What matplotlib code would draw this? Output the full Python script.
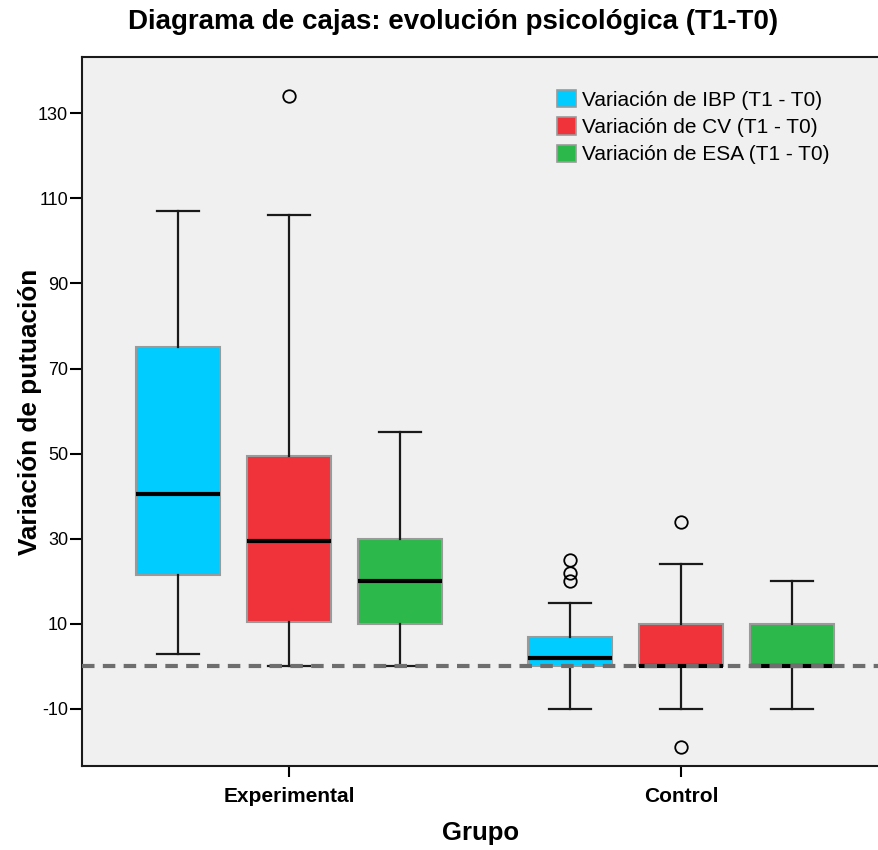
import matplotlib
matplotlib.use("Agg")
import matplotlib.pyplot as plt
from matplotlib.patches import Patch
from matplotlib.ticker import FuncFormatter

# Box-plot summary statistics (score change T1 - T0)
groups = ["Experimental", "Control"]
series = ["Variación de IBP (T1 - T0)", "Variación de CV (T1 - T0)", "Variación de ESA (T1 - T0)"]
colors = ["#00CCFF", "#F0323A", "#2DB84B"]

# per series: [Experimental, Control]
whislo = [[3, -10], [0, -10], [0, -10]]
q1 = [[21.5, 0], [10.5, 0], [10, 0]]
med = [[40.5, 2], [29.5, 0], [20, 0]]
q3 = [[75, 7], [49.5, 10], [30, 10]]
whishi = [[107, 15], [106, 24], [55, 20]]
fliers = [[[], [25, 22, 20]], [[134], [34, -19]], [[], []]]

plt.rcParams["font.family"] = ["Liberation Sans", "DejaVu Sans"]

fig = plt.figure(figsize=(8.79, 8.5), dpi=100)
ax = fig.add_axes([82 / 879, 84 / 850, 1 - 82 / 879, (766 - 57) / 850])
ax.set_facecolor("#F0F0F0")

offset = 0.283
width = 0.214
for s in range(3):
    stats = []
    positions = []
    for g in range(2):
        stats.append(dict(med=med[s][g], q1=q1[s][g], q3=q3[s][g],
                          whislo=whislo[s][g], whishi=whishi[s][g],
                          fliers=fliers[s][g]))
        positions.append(g + (s - 1) * offset)
    ax.bxp(stats, positions=positions, widths=width, patch_artist=True,
           showfliers=True,
           boxprops=dict(facecolor=colors[s], edgecolor="#9A9A9A", linewidth=1.5),
           medianprops=dict(color="black", linewidth=3),
           whiskerprops=dict(color="#1a1a1a", linewidth=1.6),
           capprops=dict(color="#1a1a1a", linewidth=1.6),
           capwidths=width * 0.5,
           flierprops=dict(marker="o", markerfacecolor="none", markeredgecolor="black",
                           markersize=9, markeredgewidth=1.3))

ax.axhline(0, color="#6E6E6E", linestyle=(0, (3, 2)), linewidth=3, zorder=5)

ax.set_xlim(-0.528, 1.505)
ax.set_ylim(-23.4, 143.2)
ax.set_yticks([-10, 10, 30, 50, 70, 90, 110, 130])
ax.yaxis.set_major_formatter(FuncFormatter(lambda v, p: f"{v:.0f}"))
ax.set_xticks([0, 1])
ax.set_xticklabels(groups, fontsize=15, fontweight="bold")
ax.tick_params(axis="y", labelsize=13, length=9, width=1.5, direction="out", pad=1)
ax.tick_params(axis="x", length=8, width=1.5, direction="out", pad=7)
for side in ["left", "bottom", "top"]:
    ax.spines[side].set_linewidth(1.5)
    ax.spines[side].set_color("#1a1a1a")
ax.spines["right"].set_visible(False)

ax.set_ylabel("Variación de putuación", fontsize=18.8, fontweight="bold")
ax.yaxis.label.set_va("center")
ax.yaxis.set_label_coords((30 - 82) / 797, 0.5)
ax.set_xlabel("Grupo", fontsize=18.5, fontweight="bold")
ax.xaxis.label.set_va("center")
ax.xaxis.set_label_coords(0.5, -(833 - 766) / 709)
fig.text(0.515, 1 - 22 / 850, "Diagrama de cajas: evolución psicológica (T1-T0)",
         ha="center", va="center", fontsize=20, fontweight="bold")

handles = [Patch(facecolor=c, edgecolor="#9A9A9A", linewidth=1.2) for c in colors]
ax.legend(handles, series, loc="upper left", bbox_to_anchor=((557 - 82) / 797, 0.954),
          frameon=False, fontsize=15, handlelength=0.92, handleheight=0.92,
          handletextpad=0.3, labelspacing=0.36, borderaxespad=0, borderpad=0)

fig.savefig("out.png", dpi=100, facecolor="white")
